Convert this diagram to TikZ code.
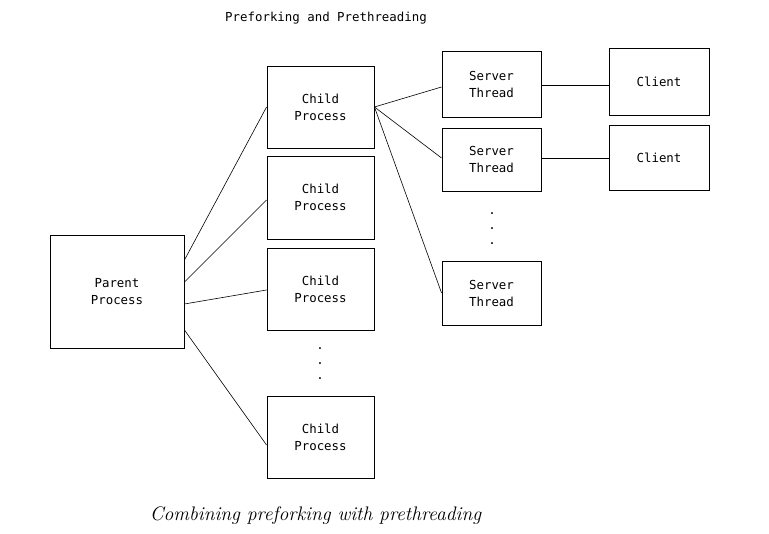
\documentclass[tikz,border=0pt]{standalone}
\usepackage{fontspec}
\newfontfamily\boxfont{DejaVu Sans Mono}
\begin{document}
\begin{tikzpicture}[x=1pt,y=-1pt,
  box/.style={draw,line width=0.9pt,rectangle,inner sep=0pt,align=center,
    font=\boxfont\fontsize{12.4}{17}\selectfont},
  link/.style={line width=0.6pt},
  dotlbl/.style={font=\boxfont\fontsize{12.4}{15}\selectfont,inner sep=0pt}]
\useasboundingbox (0,0) rectangle (769,534);
\node[font=\boxfont\fontsize{12.4}{14}\selectfont] (title) at (326,18) {Preforking and Prethreading};
\node[box,minimum width=134pt,minimum height=113pt] (P) at (117,291.5) {Parent\\Process};
\node[box,minimum width=107pt,minimum height=82pt] (C1) at (320.5,107) {Child\\Process};
\node[box,minimum width=107pt,minimum height=83pt] (C2) at (320.5,197.5) {Child\\Process};
\node[box,minimum width=107pt,minimum height=82pt] (C3) at (320.5,289) {Child\\Process};
\node[box,minimum width=107pt,minimum height=82pt] (C4) at (320.5,437) {Child\\Process};
\node[dotlbl,align=center] (cd) at (320,363.5) {.\\.\\.};
\node[box,minimum width=99pt,minimum height=66pt] (S1) at (491.5,84) {Server\\Thread};
\node[box,minimum width=99pt,minimum height=63pt] (S2) at (491.5,159.5) {Server\\Thread};
\node[box,minimum width=99pt,minimum height=64pt] (S3) at (491.5,293) {Server\\Thread};
\node[dotlbl,align=center] (sd) at (492,229) {.\\.\\.};
\node[box,minimum width=100pt,minimum height=67pt] (K1) at (659,81.5) {Client};
\node[box,minimum width=100pt,minimum height=65pt] (K2) at (659,157.5) {Client};
\draw[link] ([yshift=31.5pt]P.east) -- (C1.west);
\draw[link] ([yshift=9.5pt]P.east) -- ([yshift=-2.5pt]C2.west);
\draw[link] ([yshift=-12.5pt]P.east) -- ([yshift=-1pt]C3.west);
\draw[link] ([yshift=-38.5pt]P.east) -- ([yshift=-8pt]C4.west);
\draw[link] (C1.east) -- ([yshift=-3pt]S1.west);
\draw[link] (C1.east) -- ([yshift=1.5pt]S2.west);
\draw[link] (C1.east) -- (S3.west);
\draw[link] ([yshift=-1.5pt]S1.east) -- ([yshift=-1.5pt]S1.east -| K1.west);
\draw[link] ([yshift=1.5pt]S2.east) -- ([yshift=1.5pt]S2.east -| K2.west);
\node[font=\itshape\fontsize{19.6}{22}\selectfont,inner sep=0pt] (cap) at (315.5,516) {Combining preforking with prethreading};
\end{tikzpicture}
\end{document}
